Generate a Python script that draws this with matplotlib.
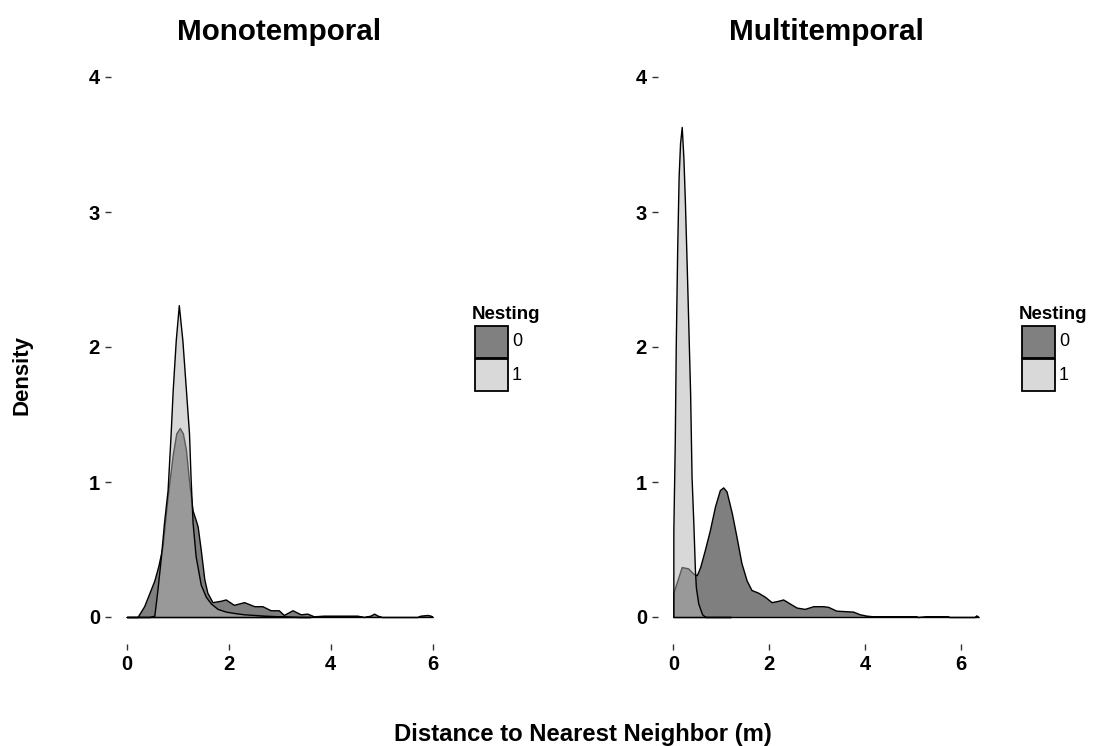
import matplotlib
matplotlib.use("Agg")
import matplotlib.pyplot as plt
from matplotlib.patches import Rectangle

plt.rcParams['font.family'] = ['Liberation Sans', 'DejaVu Sans']

# ---------------- data ----------------
panel_titles = ["Monotemporal", "Multitemporal"]
groups = ["0", "1"]
x_ticks = [0, 2, 4, 6]
y_ticks = [0, 1, 2, 3, 4]

# Monotemporal, Nesting = 0
mono0_x = [0.0, 0.21, 0.34, 0.54, 0.62, 0.70, 0.80, 0.90, 0.97, 1.04, 1.10, 1.16, 1.22,
           1.29, 1.35, 1.39, 1.45, 1.52, 1.58, 1.68, 1.84, 1.94, 2.10, 2.30, 2.50, 2.66,
           2.82, 2.98, 3.08, 3.25, 3.41, 3.54, 3.67, 3.86, 4.52, 4.65, 4.78, 4.85, 4.92,
           5.00, 5.70, 5.76, 5.90, 5.96, 6.00]
mono0_d = [0.0, 0.0, 0.08, 0.27, 0.38, 0.52, 0.89, 1.20, 1.36, 1.40, 1.36, 1.24, 1.01,
           0.79, 0.72, 0.67, 0.50, 0.28, 0.18, 0.11, 0.12, 0.13, 0.09, 0.11, 0.08, 0.08,
           0.05, 0.05, 0.015, 0.05, 0.02, 0.025, 0.005, 0.01, 0.01, 0.0, 0.01, 0.025, 0.01,
           0.0, 0.0, 0.01, 0.015, 0.01, 0.0]

# Monotemporal, Nesting = 1
mono1_x = [0.0, 0.45, 0.54, 0.60, 0.67, 0.73, 0.80, 0.86, 0.90, 0.96, 1.02, 1.09, 1.16,
           1.22, 1.25, 1.29, 1.35, 1.45, 1.55, 1.65, 1.78, 1.94, 2.10, 2.30, 2.70, 3.00,
           3.40, 3.60]
mono1_d = [0.0, 0.0, 0.01, 0.20, 0.45, 0.70, 0.94, 1.36, 1.68, 2.05, 2.31, 2.05, 1.68,
           1.36, 1.04, 0.70, 0.45, 0.24, 0.15, 0.10, 0.06, 0.04, 0.03, 0.02, 0.01, 0.005,
           0.0, 0.0]

# Multitemporal, Nesting = 0
multi0_x = [0.0, 0.175, 0.31, 0.42, 0.49, 0.56, 0.66, 0.76, 0.87, 0.97, 1.04, 1.11, 1.22,
            1.32, 1.42, 1.53, 1.63, 1.77, 1.91, 2.05, 2.19, 2.29, 2.43, 2.57, 2.74, 2.92,
            3.13, 3.23, 3.40, 3.75, 3.89, 4.03, 4.17, 5.07, 5.10, 5.28, 5.73, 5.76, 6.29,
            6.32, 6.37]
multi0_d = [0.18, 0.37, 0.36, 0.32, 0.31, 0.37, 0.50, 0.64, 0.82, 0.94, 0.96, 0.93, 0.77,
            0.59, 0.40, 0.27, 0.20, 0.18, 0.15, 0.11, 0.12, 0.13, 0.10, 0.07, 0.06, 0.08,
            0.08, 0.075, 0.047, 0.04, 0.02, 0.01, 0.005, 0.005, 0.0, 0.005, 0.005, 0.0, 0.0,
            0.012, 0.0]

# Multitemporal, Nesting = 1
multi1_x = [0.0, 0.03, 0.05, 0.08, 0.11, 0.14, 0.175, 0.21, 0.24, 0.28, 0.35, 0.38, 0.42,
            0.45, 0.47, 0.52, 0.60, 0.67, 1.20]
multi1_d = [0.64, 1.30, 2.00, 2.72, 3.26, 3.51, 3.63, 3.40, 3.09, 2.59, 1.66, 1.04, 0.67,
            0.35, 0.22, 0.10, 0.02, 0.0, 0.0]

panels = [
    [(mono0_x, mono0_d), (mono1_x, mono1_d)],
    [(multi0_x, multi0_d), (multi1_x, multi1_d)],
]

fill_colors = [(0.0, 0.0, 0.0, 0.5), (0.70, 0.70, 0.70, 0.5)]
legend_colors = ['#808080', '#d9d9d9']

# ---------------- layout (pixels of a 1095x746 canvas) ----------------
W, H = 1095, 746
fig = plt.figure(figsize=(W / 100, H / 100), dpi=100)


def fx(px):
    return px / W


def fy(py):
    return 1 - py / H


axes_px = [(111, 50, 337, 594), (658, 50, 336, 594)]
xlims = [(-0.31, 6.30), (-0.32, 6.69)]
legend_x = [472, 1019]

tick_font = dict(fontsize=14.5, fontweight='bold')

for i, (series, (lx, ly, lw, lh)) in enumerate(zip(panels, axes_px)):
    ax = fig.add_axes([fx(lx), fy(ly + lh), lw / W, lh / H])
    for (xs, ds), fc in zip(series, fill_colors):
        ax.fill_between(xs, ds, 0, facecolor=fc, edgecolor='black', linewidth=1.0)
    ax.set_xlim(*xlims[i])
    ax.set_ylim(-0.2, 4.2)
    ax.set_xticks(x_ticks)
    ax.set_yticks(y_ticks)
    ax.set_xticklabels([str(v) for v in x_ticks], **tick_font)
    ax.set_yticklabels([str(v) for v in y_ticks], **tick_font)
    for s in ax.spines.values():
        s.set_visible(False)
    ax.tick_params(axis='both', length=4.5, width=1.0, color='#333333',
                   labelcolor='black', pad=3.5)
    ax.set_title(panel_titles[i], fontsize=21.3, fontweight='bold', pad=7)

    # legend (drawn as figure artists)
    lx0 = legend_x[i]
    fig.text(fx(lx0), fy(314), 'Nesting', ha='left', va='center',
             fontsize=13.5, fontweight='bold')
    for k, (c, lab) in enumerate(zip(legend_colors, groups)):
        top = 326 + k * 33
        fig.add_artist(Rectangle((fx(lx0 + 3), fy(top + 32)), 33 / W, 32 / H,
                                 transform=fig.transFigure, facecolor=c,
                                 edgecolor='black', linewidth=1.3))
        fig.text(fx(lx0 + 40), fy(top + 16), lab, ha='left', va='center',
                 fontsize=13)

fig.text(fx(22), fy(375), 'Density', rotation=90, ha='center', va='center',
         fontsize=16, fontweight='bold')
fig.text(fx(583), fy(734), 'Distance to Nearest Neighbor (m)', ha='center',
         va='center', fontsize=17.2, fontweight='bold')

fig.savefig('out.png', dpi=100, facecolor='white')
